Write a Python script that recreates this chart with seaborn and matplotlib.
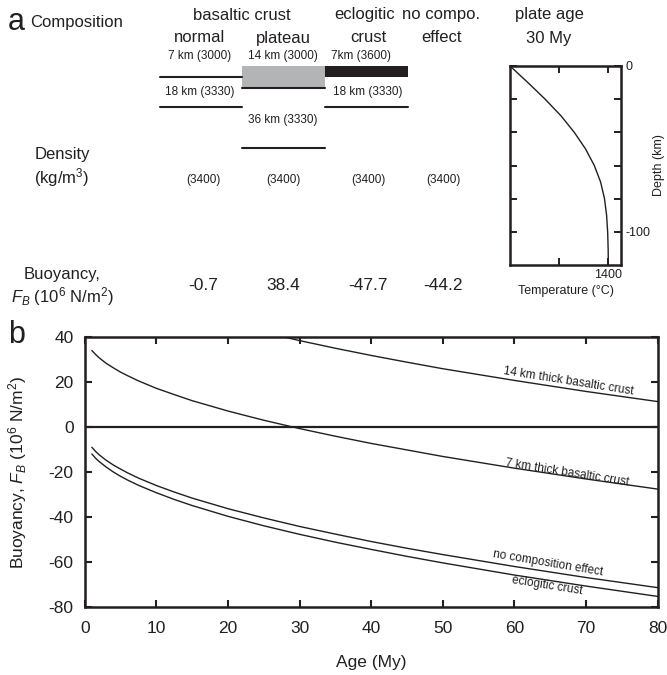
import numpy as np
import pandas as pd
import matplotlib
matplotlib.use("Agg")
import matplotlib.pyplot as plt
import seaborn as sns

sns.set_style("ticks")
plt.rcParams['font.family'] = ['Liberation Sans', 'DejaVu Sans']
plt.rcParams['mathtext.fontset'] = 'custom'
plt.rcParams['mathtext.rm'] = 'Liberation Sans'
plt.rcParams['mathtext.it'] = 'Liberation Sans:italic'
plt.rcParams['axes.unicode_minus'] = False
ink = "#231f20"
plt.rcParams['text.color'] = ink
plt.rcParams['axes.labelcolor'] = ink
plt.rcParams['xtick.color'] = ink
plt.rcParams['ytick.color'] = ink

# ---- data ----
# panel b: buoyancy vs plate age
ages = [1, 1.5, 2, 3, 4, 5, 6, 7.5, 10, 12.5, 15, 20, 25, 30, 35, 40, 45, 50, 60, 70, 80]
fb_14km = [73.3, 71.5, 70.1, 67.6, 65.5, 63.7, 62.0, 59.7, 56.4, 53.5, 50.9, 46.2, 42.1, 38.4,
           35.0, 31.8, 28.8, 25.9, 20.7, 15.8, 11.3]
fb_7km = [34.0, 32.3, 30.8, 28.3, 26.3, 24.4, 22.8, 20.5, 17.2, 14.4, 11.7, 7.1, 3.0, -0.7,
          -4.1, -7.3, -10.2, -13.1, -18.3, -23.1, -27.6]
fb_nocomp = [-9.0, -10.8, -12.3, -14.8, -16.9, -18.7, -20.4, -22.7, -26.0, -28.9, -31.6, -36.3,
             -40.4, -44.2, -47.6, -50.9, -53.9, -56.7, -62.0, -66.9, -71.4]
fb_eclog = [-12.0, -13.8, -15.3, -17.8, -20.0, -21.9, -23.6, -25.9, -29.2, -32.2, -34.9, -39.7,
            -43.9, -47.7, -51.2, -54.4, -57.5, -60.4, -65.8, -70.7, -75.3]

# panel a: geotherm for a 30 My plate
depth = [0, -10, -20, -30, -40, -50, -60, -70, -80, -90, -100, -110, -120]
temp = [0, 255, 500, 725, 915, 1075, 1200, 1290, 1345, 1375, 1390, 1397, 1400]

# panel a: table
columns = ["normal", "plateau", "crust", "effect"]
densities = ["(3400)", "(3400)", "(3400)", "(3400)"]
buoyancy_30 = ["-0.7", "38.4", "-47.7", "-44.2"]

fig = plt.figure(figsize=(6.67, 6.75), dpi=100)

# overlay in pixel coordinates for the schematic
ov = fig.add_axes([0, 0, 1, 1])
ov.set_xlim(0, 667)
ov.set_ylim(675, 0)
ov.axis("off")

ov.text(8, 22, "a", fontsize=22, va="center", ha="left")
ov.text(30, 23, "Composition", fontsize=12, va="center", ha="left")
ov.text(242, 15, "basaltic crust", fontsize=12, va="center", ha="center")
ov.text(365, 15, "eclogitic", fontsize=12, va="center", ha="center")
ov.text(441, 15, "no compo.", fontsize=12, va="center", ha="center")
ov.text(549, 15, "plate age", fontsize=12, va="center", ha="center")
ov.text(549, 38, "30 My", fontsize=12, va="center", ha="center")
col_x = [200, 283, 368, 441]
for x, c in zip(col_x, columns):
    ov.text(x, 38, c, fontsize=12, va="center", ha="center")

ov.text(200, 56, "7 km (3000)", fontsize=8.5, va="center", ha="center")
ov.text(283, 56, "14 km (3000)", fontsize=8.5, va="center", ha="center")
ov.text(361, 56, "7km (3600)", fontsize=8.5, va="center", ha="center")

# crust / mantle layers
ov.add_patch(plt.Rectangle((242, 66), 83, 22, color="#b3b4b6", lw=0))
ov.add_patch(plt.Rectangle((325, 66), 83, 11, color=ink, lw=0))
ov.plot([160, 242], [77, 77], color=ink, lw=1.5)
ov.plot([160, 242], [107, 107], color=ink, lw=1.5)
ov.plot([242, 325], [88, 88], color=ink, lw=1.5)
ov.plot([242, 325], [148, 148], color=ink, lw=1.5)
ov.plot([325, 408], [107, 107], color=ink, lw=1.5)
ov.text(200, 92, "18 km (3330)", fontsize=8.5, va="center", ha="center")
ov.text(368, 92, "18 km (3330)", fontsize=8.5, va="center", ha="center")
ov.text(283, 120, "36 km (3330)", fontsize=8.5, va="center", ha="center")

ov.text(62, 155, "Density", fontsize=12, va="center", ha="center")
ov.text(62, 178, "(kg/m$^3$)", fontsize=12, va="center", ha="center")
ov.text(62, 275, "Buoyancy,", fontsize=12, va="center", ha="center")
ov.text(62, 297, "$F_B$ (10$^6$ N/m$^2$)", fontsize=12, va="center", ha="center")
dens_x = [203, 283, 368, 443]
for x, d, b in zip(dens_x, densities, buoyancy_30):
    ov.text(x, 180, d, fontsize=8.5, va="center", ha="center")
    ov.text(x, 286, b, fontsize=12.5, va="center", ha="center")

ov.text(8, 335, "b", fontsize=22, va="center", ha="left")

# geotherm inset
axg = fig.add_axes([510 / 667, (675 - 265) / 675, 111 / 667, 199 / 675])
sns.lineplot(x=temp, y=depth, color=ink, lw=1.0, sort=False, ax=axg)
axg.set_xlim(0, 1580)
axg.set_ylim(-120, 0)
axg.set_xticks([700, 1400])
axg.set_xticklabels(["", "1400"], fontsize=9)
axg.set_yticks([0, -20, -40, -60, -80, -100])
axg.set_yticklabels(["0", "", "", "", "", "-100"], fontsize=9)
axg.yaxis.tick_right()
axg.yaxis.set_label_position("right")
axg.tick_params(direction="in", top=True, bottom=True, left=True, right=True,
                length=5, width=1.4, pad=3)
axg.tick_params(axis="y", labelleft=False, labelright=True)
axg.set_xlabel("Temperature (°C)", fontsize=9, labelpad=3)
axg.set_ylabel("Depth (km)", fontsize=9, labelpad=2)
for s in axg.spines.values():
    s.set_linewidth(1.8)
    s.set_color(ink)

# panel b
ax = fig.add_axes([84.7 / 667, (675 - 607) / 675, 573 / 667, 270 / 675])
ax.axhline(0, color=ink, lw=1.6)
for vals in [fb_14km, fb_7km, fb_nocomp, fb_eclog]:
    sns.lineplot(x=ages, y=vals, color=ink, lw=1.0, ax=ax)

ax.set_xlim(0, 80)
ax.set_ylim(-80, 40)
ax.set_xticks(np.arange(0, 81, 10))
ax.set_yticks(np.arange(-80, 41, 20))
ax.tick_params(direction="in", top=True, right=True, length=5, width=1.5,
               labelsize=12.5)
ax.tick_params(axis="x", pad=10)
ax.tick_params(axis="y", pad=8)
for s in ax.spines.values():
    s.set_linewidth(1.8)
    s.set_color(ink)
ax.set_xlabel("Age (My)", fontsize=12.5, labelpad=14)
ax.set_ylabel("Buoyancy, $F_B$ (10$^6$ N/m$^2$)", fontsize=12.5, labelpad=14)

ax.text(67.5, 20.3, "14 km thick basaltic crust", fontsize=8.5, rotation=-9,
        ha="center", va="center", rotation_mode="anchor")
ax.text(67.4, -20.3, "7 km thick basaltic crust", fontsize=8.5, rotation=-9,
        ha="center", va="center", rotation_mode="anchor")
ax.text(64.7, -60.6, "no composition effect", fontsize=8.5, rotation=-9.5,
        ha="center", va="center", rotation_mode="anchor")
ax.text(64.6, -70.3, "eclogitic crust", fontsize=8.5, rotation=-9,
        ha="center", va="center", rotation_mode="anchor")

fig.savefig("out.png", dpi=100)
